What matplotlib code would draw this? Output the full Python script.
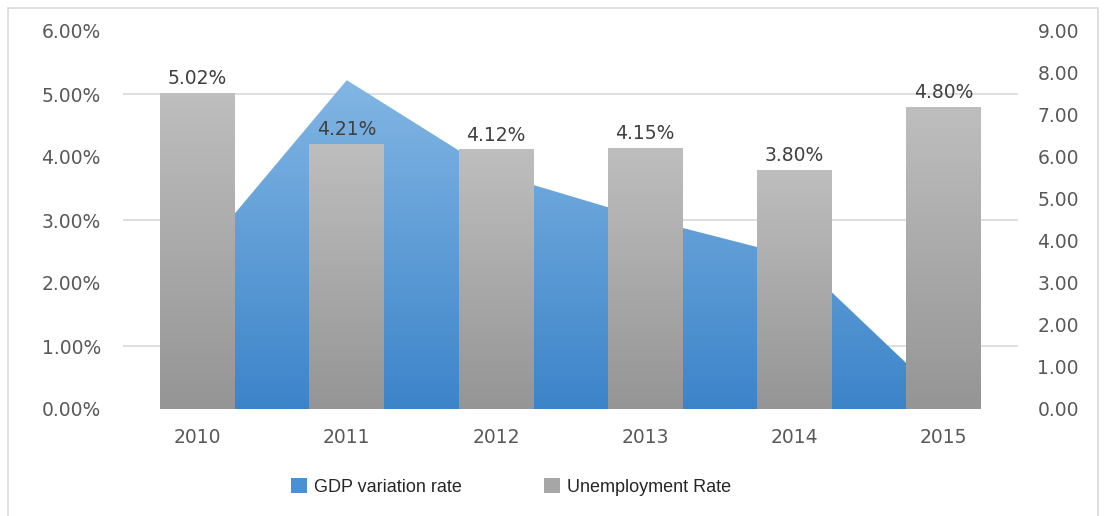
import numpy as np
import matplotlib
matplotlib.use("Agg")
import matplotlib.pyplot as plt
from matplotlib.colors import LinearSegmentedColormap
from matplotlib.patches import Rectangle, Patch

# GDP variation and unemployment, 2010-2015
years = ["2010", "2011", "2012", "2013", "2014", "2015"]
gdp_rate = [3.60, 7.83, 5.60, 4.54, 3.63, 0.25]        # right axis
unemployment = [5.02, 4.21, 4.12, 4.15, 3.80, 4.80]    # left axis, %

W, H = 1108, 516
fig = plt.figure(figsize=(W / 100, H / 100), dpi=100)

# light frame around the chart (open at the bottom edge)
fig.patches.append(Rectangle((8 / W, -0.05), (1098 - 8) / W, 1.05 - 8 / H,
                             transform=fig.transFigure, fill=False,
                             edgecolor="#d9d9d9", linewidth=1.2))

ax = fig.add_axes([123 / W, 107 / H, 895 / W, 378 / H])
ax2 = ax.twinx()

x = np.arange(len(years))
tick_color = "#595959"
tick_font = 13.5

# area series (GDP) on the lower axes with a vertical blue gradient
blue = LinearSegmentedColormap.from_list("blue", ["#3c84c9", "#82b6e4"])
area = ax.fill_between(x, gdp_rate, 0, facecolor="none", edgecolor="none")
grad = np.linspace(0, 1, 256).reshape(-1, 1)
im = ax.imshow(grad, extent=[x[0], x[-1], 0, max(gdp_rate)], origin="lower",
               aspect="auto", cmap=blue, zorder=2)
im.set_clip_path(area.get_paths()[0], transform=ax.transData)

ax.set_xlim(-0.5, len(years) - 0.5)
ax.set_ylim(0, 9)
ax.yaxis.tick_right()
ax.set_yticks(np.arange(0, 9.01, 1))
ax.set_yticklabels([f"{v:.2f}" for v in np.arange(0, 9.01, 1)])
ax.set_yticks(np.arange(0, 9.01, 1.5), minor=True)
ax.grid(True, which="minor", axis="y", color="#d9d9d9", linewidth=1.2, zorder=0)
ax.set_axisbelow(True)
ax.tick_params(axis="y", which="both", length=0, pad=14,
               labelsize=tick_font, labelcolor=tick_color)
ax.set_xticks(x)
ax.set_xticklabels(years)
ax.tick_params(axis="x", length=0, pad=14, labelsize=tick_font, labelcolor=tick_color)

# bars (unemployment) on the twin axes, drawn above the area
gray = LinearSegmentedColormap.from_list("gray", ["#959595", "#bebebe"])
bars = ax2.bar(x, unemployment, width=0.5, facecolor="none", edgecolor="none")
for b in bars:
    bx, bw, bh = b.get_x(), b.get_width(), b.get_height()
    bim = ax2.imshow(grad, extent=[bx, bx + bw, 0, bh], origin="lower",
                     aspect="auto", cmap=gray, zorder=3)
    bim.set_clip_path(b)
for xi, v in zip(x, unemployment):
    ax2.text(xi, v + 0.07, f"{v:.2f}%", ha="center", va="bottom",
             fontsize=tick_font, color="#404040", zorder=4)

ax2.set_xlim(-0.5, len(years) - 0.5)
ax2.set_ylim(0, 6)
ax2.yaxis.tick_left()
ax2.set_yticks(np.arange(0, 6.01, 1))
ax2.set_yticklabels([f"{v:.2f}%" for v in np.arange(0, 6.01, 1)])
ax2.tick_params(axis="y", length=0, pad=16, labelsize=tick_font, labelcolor=tick_color)

for a in (ax, ax2):
    for s in a.spines.values():
        s.set_visible(False)

handles = [Patch(facecolor="#4a90d4", label="GDP variation rate"),
           Patch(facecolor="#a6a6a6", label="Unemployment Rate")]
fig.legend(handles=handles, loc="center", bbox_to_anchor=(511 / W, 1 - 487 / H),
           ncol=2, frameon=False, handlelength=0.9, handleheight=0.9,
           handletextpad=0.4, columnspacing=4.5, labelcolor="#262626",
           prop={"family": "Liberation Sans", "size": 13})

fig.savefig("out.png", dpi=100)
